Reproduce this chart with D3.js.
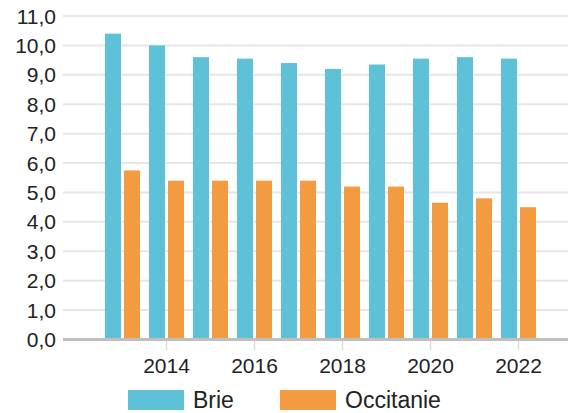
<!DOCTYPE html>
<html>
<head>
<meta charset="utf-8">
<script src="https://cdn.jsdelivr.net/npm/d3@7"></script>
<style>
  html, body { margin: 0; padding: 0; background: #fff; }
  svg { display: block; font-family: "Liberation Sans", Arial, sans-serif; }
</style>
</head>
<body>
<svg id="chart" width="568" height="413"></svg>
<script>
// Data
const years = [2013, 2014, 2015, 2016, 2017, 2018, 2019, 2020, 2021, 2022];
const brie = [10.4, 10.0, 9.6, 9.55, 9.4, 9.2, 9.35, 9.55, 9.6, 9.55];
const occitanie = [5.75, 5.4, 5.4, 5.4, 5.4, 5.2, 5.2, 4.65, 4.8, 4.5];
const seriesNames = ["Brie", "Occitanie"];
const seriesColors = ["#5ec1d8", "#f39b41"];
const yTicks = [0, 1, 2, 3, 4, 5, 6, 7, 8, 9, 10, 11];
const xLabelYears = [2014, 2016, 2018, 2020, 2022];

const svg = d3.select("#chart");
const plotLeft = 63, plotRight = 568;

const y = d3.scaleLinear().domain([0, 11]).range([339.5, 16]);

const x = d3.scaleBand()
    .domain(years)
    .range([100.5, 540.5])
    .paddingInner(9 / 44)
    .paddingOuter(4.5 / 44);

const xSub = d3.scaleBand()
    .domain(seriesNames)
    .range([0, x.bandwidth()])
    .paddingInner(3 / 19);

const color = d3.scaleOrdinal().domain(seriesNames).range(seriesColors);

// Grid lines
svg.append("g")
    .selectAll("line")
    .data(yTicks.filter(d => d > 0))
    .enter()
    .append("line")
    .attr("x1", plotLeft)
    .attr("x2", plotRight)
    .attr("y1", d => y(d))
    .attr("y2", d => y(d))
    .attr("stroke", "#e6e6e6")
    .attr("stroke-width", 2);

// Y labels
svg.append("g")
    .selectAll("text")
    .data(yTicks)
    .enter()
    .append("text")
    .attr("x", 56)
    .attr("y", d => y(d))
    .attr("dy", "0.36em")
    .attr("text-anchor", "end")
    .attr("font-size", 21)
    .attr("fill", "#222")
    .text(d => d3.format(".1f")(d).replace(".", ","));

// Bars
const rows = years.map((yr, i) => ({ year: yr, values: [brie[i], occitanie[i]] }));

const groups = svg.append("g")
    .selectAll("g")
    .data(rows)
    .enter()
    .append("g")
    .attr("transform", d => `translate(${x(d.year)},0)`);

groups.selectAll("rect")
    .data(d => d.values.map((v, j) => ({ name: seriesNames[j], value: v })))
    .enter()
    .append("rect")
    .attr("x", d => xSub(d.name))
    .attr("width", xSub.bandwidth())
    .attr("y", d => y(d.value))
    .attr("height", d => y(0) - y(d.value))
    .attr("fill", d => color(d.name));

// X ticks
svg.append("g")
    .selectAll("line")
    .data(xLabelYears)
    .enter()
    .append("line")
    .attr("x1", d => x(d) + x.bandwidth() / 2)
    .attr("x2", d => x(d) + x.bandwidth() / 2)
    .attr("y1", 340)
    .attr("y2", 350)
    .attr("stroke", "#dddddd")
    .attr("stroke-width", 1.5);

// Baseline
svg.append("line")
    .attr("x1", plotLeft)
    .attr("x2", plotRight)
    .attr("y1", y(0))
    .attr("y2", y(0))
    .attr("stroke", "#bfbfbf")
    .attr("stroke-width", 3);

// X labels
svg.append("g")
    .selectAll("text")
    .data(xLabelYears)
    .enter()
    .append("text")
    .attr("x", d => x(d) + x.bandwidth() / 2)
    .attr("y", 372.5)
    .attr("text-anchor", "middle")
    .attr("font-size", 21)
    .attr("fill", "#222")
    .text(d => d);

// Legend
const legendX = [128, 280];
const legend = svg.append("g")
    .selectAll("g")
    .data(seriesNames)
    .enter()
    .append("g")
    .attr("transform", (d, i) => `translate(${legendX[i]},390)`);

legend.append("rect")
    .attr("width", 56)
    .attr("height", 20)
    .attr("fill", d => color(d));

legend.append("text")
    .attr("x", 65)
    .attr("y", 18)
    .attr("font-size", 23)
    .attr("fill", "#222")
    .text(d => d);
</script>
</body>
</html>
